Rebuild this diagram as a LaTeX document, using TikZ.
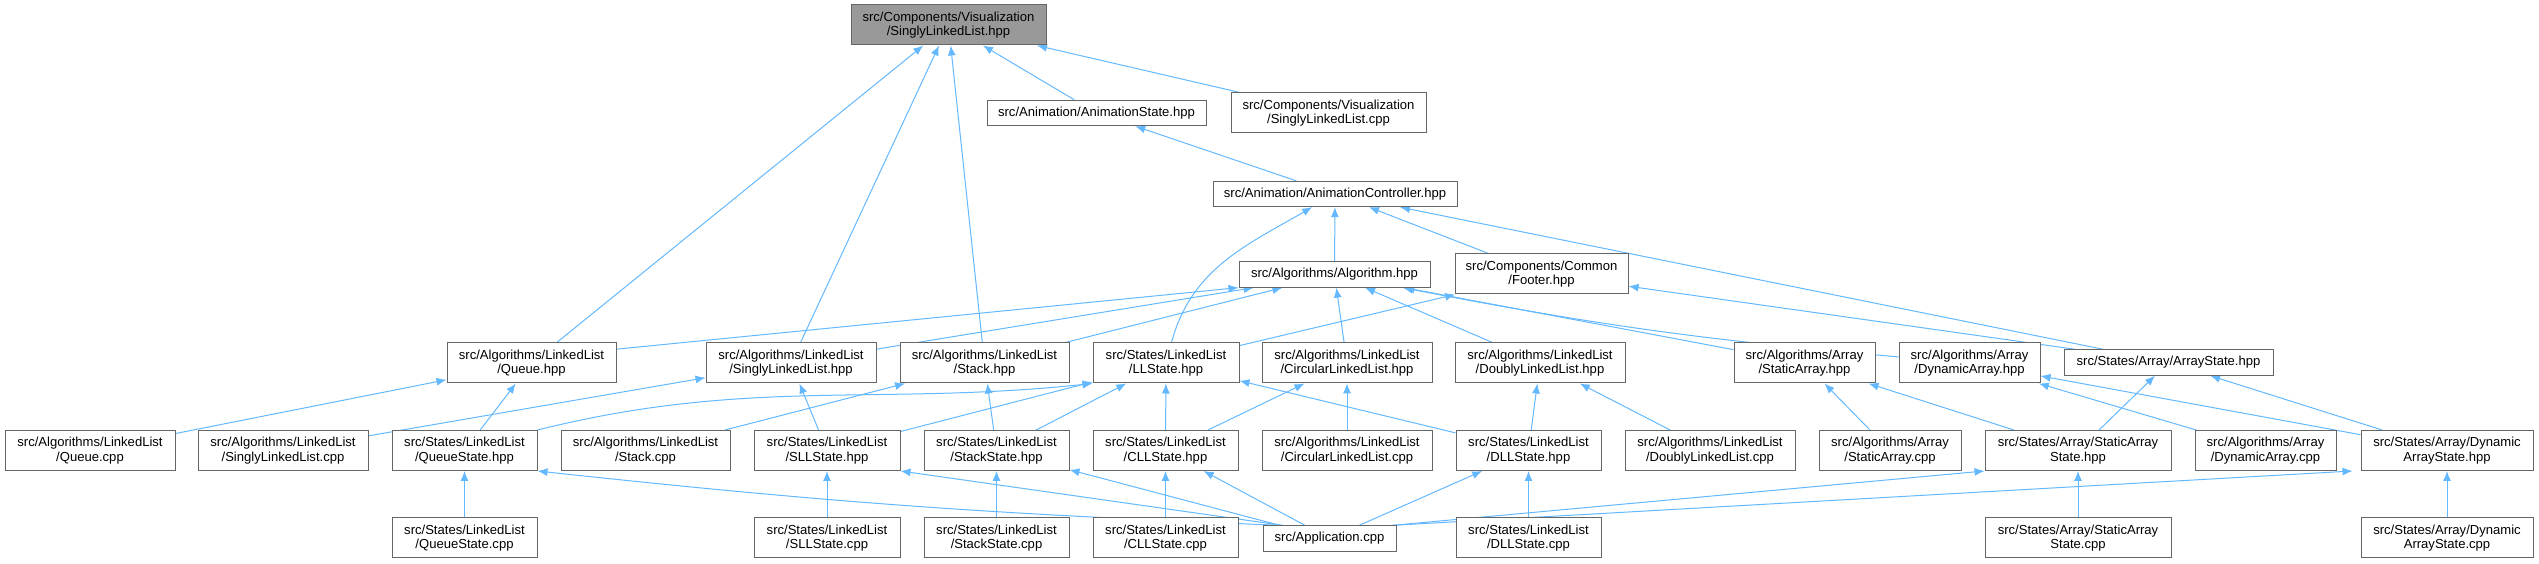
\documentclass[tikz,border=0pt]{standalone}
\usepackage{fontspec}
\setmainfont{Liberation Sans}
\usetikzlibrary{arrows.meta}
\definecolor{edgeblue}{RGB}{99,184,255}
\definecolor{boxgray}{RGB}{102,102,102}
\definecolor{selfgray}{RGB}{153,153,153}
\pgfdeclarelayer{background}
\pgfsetlayers{background,main}
\begin{document}
\begin{tikzpicture}[
    x=0.75pt, y=0.75pt,
    file/.style={draw=boxgray,line width=0.75pt,fill=white,inner sep=0pt,align=center,
        font=\fontsize{9.8}{11}\selectfont,minimum width=#1*0.75pt,minimum height=30pt},
    self/.style={file=#1,fill=selfgray},
    oneline/.style={minimum height=19pt},
    inc/.style={draw=edgeblue,line width=0.75pt,-{Latex[length=7.5pt,width=6pt]}}
]
\useasboundingbox (0,0) rectangle (2539,564);

% top rows
\node[self=195]         (root)      at (948.5,539)   {src/Components/Visualization\\/SinglyLinkedList.hpp};
\node[file=219,oneline] (animstate) at (1096.5,451)  {src/Animation/AnimationState.hpp};
\node[file=195]         (vizcpp)    at (1328.5,451)  {src/Components/Visualization\\/SinglyLinkedList.cpp};
\node[file=244,oneline] (animctrl)  at (1335,370)    {src/Animation/AnimationController.hpp};
\node[file=191,oneline] (algo)      at (1334.5,289.5){src/Algorithms/Algorithm.hpp};
\node[file=173]         (footer)    at (1541.5,290)  {src/Components/Common\\/Footer.hpp};

% headers
\node[file=169] (queuehpp) at (531.5,201)  {src/Algorithms/LinkedList\\/Queue.hpp};
\node[file=170] (sllhpp)   at (791,201)    {src/Algorithms/LinkedList\\/SinglyLinkedList.hpp};
\node[file=169] (stackhpp) at (984.5,201)  {src/Algorithms/LinkedList\\/Stack.hpp};
\node[file=146] (llstate)  at (1166,201)   {src/States/LinkedList\\/LLState.hpp};
\node[file=170] (cllhpp)   at (1347,201)   {src/Algorithms/LinkedList\\/CircularLinkedList.hpp};
\node[file=170] (dllhpp)   at (1540,201)   {src/Algorithms/LinkedList\\/DoublyLinkedList.hpp};
\node[file=141] (stathpp)  at (1804.5,201) {src/Algorithms/Array\\/StaticArray.hpp};
\node[file=141] (dynhpp)   at (1969.5,201) {src/Algorithms/Array\\/DynamicArray.hpp};
\node[file=209,oneline] (arrstate) at (2168.5,201.5) {src/States/Array/ArrayState.hpp};

% states and sources
\node[file=170] (queuecpp)   at (90,113.5)     {src/Algorithms/LinkedList\\/Queue.cpp};
\node[file=170] (sllcpp)     at (283,113.5)    {src/Algorithms/LinkedList\\/SinglyLinkedList.cpp};
\node[file=145] (queuestate) at (464.5,113.5)  {src/States/LinkedList\\/QueueState.hpp};
\node[file=169] (stackcpp)   at (645.5,113.5)  {src/Algorithms/LinkedList\\/Stack.cpp};
\node[file=146] (sllstate)   at (827,113.5)    {src/States/LinkedList\\/SLLState.hpp};
\node[file=145] (stackstate) at (996.5,113.5)  {src/States/LinkedList\\/StackState.hpp};
\node[file=145] (cllstate)   at (1165.5,113.5) {src/States/LinkedList\\/CLLState.hpp};
\node[file=170] (cllcpp)     at (1347,113.5)   {src/Algorithms/LinkedList\\/CircularLinkedList.cpp};
\node[file=145] (dllstate)   at (1528.5,113.5) {src/States/LinkedList\\/DLLState.hpp};
\node[file=170] (dllcpp)     at (1710,113.5)   {src/Algorithms/LinkedList\\/DoublyLinkedList.cpp};
\node[file=142] (statcpp)    at (1890,113.5)   {src/Algorithms/Array\\/StaticArray.cpp};
\node[file=186] (statstate)  at (2078,113.5)   {src/States/Array/StaticArray\\State.hpp};
\node[file=141] (dyncpp)     at (2265.5,113.5) {src/Algorithms/Array\\/DynamicArray.cpp};
\node[file=172] (dynstate)   at (2447,113.5)   {src/States/Array/Dynamic\\ArrayState.hpp};

% bottom row
\node[file=145] (queuestatecpp) at (464.5,26)  {src/States/LinkedList\\/QueueState.cpp};
\node[file=146] (sllstatecpp)   at (827,26)    {src/States/LinkedList\\/SLLState.cpp};
\node[file=145] (stackstatecpp) at (996.5,26)  {src/States/LinkedList\\/StackState.cpp};
\node[file=145] (cllstatecpp)   at (1165.5,26) {src/States/LinkedList\\/CLLState.cpp};
\node[file=133,oneline] (app)   at (1329.5,25.5) {src/Application.cpp};
\node[file=145] (dllstatecpp)   at (1528.5,26) {src/States/LinkedList\\/DLLState.cpp};
\node[file=186] (statstatecpp)  at (2078,26)   {src/States/Array/StaticArray\\State.cpp};
\node[file=172] (dynstatecpp)   at (2447,26)   {src/States/Array/Dynamic\\ArrayState.cpp};

\begin{pgfonlayer}{background}
\draw[inc] (queuehpp) -- (root);
\draw[inc] (sllhpp) -- (root);
\draw[inc] (stackhpp) -- (root);
\draw[inc] (animstate) -- (root);
\draw[inc] (vizcpp) -- (root);
\draw[inc] (animctrl) -- (animstate);

\draw[inc] (llstate) to[out=75,in=-150] (animctrl);
\draw[inc] (algo) -- (animctrl);
\draw[inc] (footer) -- (animctrl);
\draw[inc] (arrstate) -- (animctrl);

\draw[inc] ([yshift=-5pt]queuehpp.north east) -- (algo.south west);
\draw[inc] (sllhpp) -- (algo);
\draw[inc] (stackhpp) -- (algo);
\draw[inc] (cllhpp) -- (algo);
\draw[inc] (dllhpp) -- (algo);
\draw[inc] (stathpp) -- (algo);
\draw[inc] (dynhpp) to[bend left=3] (algo);
\draw[inc] (llstate) -- (footer);
\draw[inc] (arrstate) -- (footer);

\draw[inc] (queuecpp) -- (queuehpp);
\draw[inc] (queuestate) -- (queuehpp);
\draw[inc] (sllcpp) -- (sllhpp);
\draw[inc] (sllstate) -- (sllhpp);
\draw[inc] (stackcpp) -- (stackhpp);
\draw[inc] (stackstate) -- (stackhpp);
\draw[inc] (queuestate.north east) to[out=14,in=-174] (llstate.south west);
\draw[inc] (sllstate) -- (llstate);
\draw[inc] (stackstate) -- (llstate);
\draw[inc] (cllstate) -- (llstate);
\draw[inc] (dllstate) -- (llstate);
\draw[inc] (cllstate) -- (cllhpp);
\draw[inc] (cllcpp) -- (cllhpp);
\draw[inc] (dllstate) -- (dllhpp);
\draw[inc] (dllcpp) -- (dllhpp);
\draw[inc] (statcpp) -- (stathpp);
\draw[inc] (statstate) -- (stathpp);
\draw[inc] (dyncpp) -- (dynhpp);
\draw[inc] (dynstate) -- (dynhpp);
\draw[inc] (statstate) -- (arrstate);
\draw[inc] (dynstate) -- (arrstate);

\draw[inc] (queuestatecpp) -- (queuestate);
\draw[inc] (sllstatecpp) -- (sllstate);
\draw[inc] (stackstatecpp) -- (stackstate);
\draw[inc] (cllstatecpp) -- (cllstate);
\draw[inc] (dllstatecpp) -- (dllstate);
\draw[inc] (statstatecpp) -- (statstate);
\draw[inc] (dynstatecpp) -- (dynstate);
\draw[inc] ([xshift=15pt]app.north west) to[bend left=2] (queuestate.south east);
\draw[inc] ([xshift=15pt]app.north west) -- (sllstate.south east);
\draw[inc] (app) -- (stackstate);
\draw[inc] (app) -- (cllstate);
\draw[inc] (app) -- (dllstate);
\draw[inc] ([xshift=-3pt]app.north east) -- (statstate.south west);
\draw[inc] ([xshift=-3pt]app.north east) -- ([xshift=-6pt]dynstate.south west);
\end{pgfonlayer}
\end{tikzpicture}
\end{document}
